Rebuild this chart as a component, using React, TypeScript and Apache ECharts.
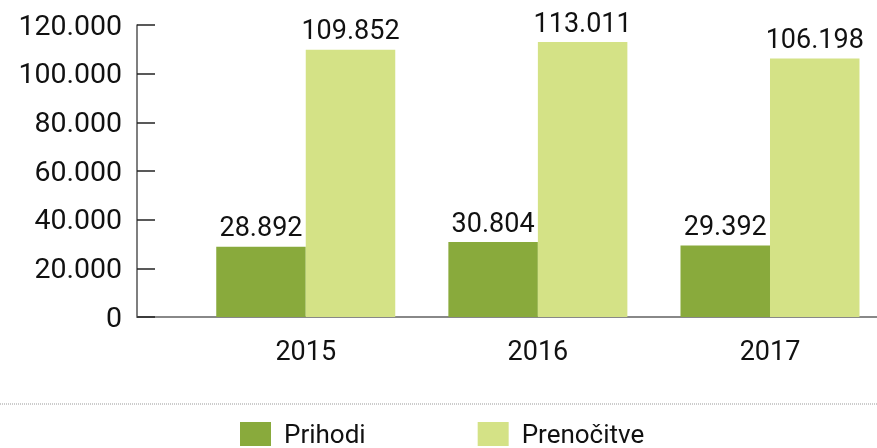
import React, { useEffect, useRef } from "react";
import * as echarts from "echarts";

const years = ["2015", "2016", "2017"];
const prihodi = [28892, 30804, 29392];
const prenocitve = [109852, 113011, 106198];
const seriesNames = ["Prihodi", "Prenočitve"];
const colors = ["#89AA3C", "#D4E286"];

const fmt = (v: number) => String(v).replace(/\B(?=(\d{3})+(?!\d))/g, ".");

export default function App() {
  const ref = useRef<HTMLDivElement>(null);
  useEffect(() => {
    if (!ref.current) return;
    const chart = echarts.init(ref.current, null, { renderer: "svg" });
    const font = "Roboto";
    const mk = (vals: number[]) => vals.map((v, i) => [i + 1, v]);
    const valueLabel = {
      show: true,
      position: "top",
      distance: 6,
      formatter: (p: any) => fmt(p.value[1]),
      fontSize: 27,
      color: "#111",
      fontFamily: font,
    };
    chart.setOption({
      animation: false,
      textStyle: { fontFamily: font },
      grid: { left: 137, right: 0, top: 25, bottom: 131, containLabel: false },
      xAxis: {
        type: "value",
        min: 0.273,
        max: 3.461,
        splitLine: { show: false },
        axisTick: { show: false },
        axisLine: { show: true, lineStyle: { color: "#888", width: 2 } },
        axisLabel: {
          customValues: [1, 2, 3],
          formatter: (v: number) => years[Math.round(v) - 1] ?? "",
          fontSize: 27,
          color: "#111",
          fontFamily: font,
          margin: 20,
        },
      },
      yAxis: {
        type: "value",
        min: 0,
        max: 120000,
        interval: 20000,
        splitLine: { show: false },
        axisLine: { show: true, lineStyle: { color: "#555", width: 1.5 } },
        axisTick: { show: true, inside: true, length: 18, lineStyle: { color: "#222", width: 1.5 } },
        axisLabel: {
          formatter: (v: number) => fmt(v),
          fontSize: 28.5,
          color: "#111",
          fontFamily: font,
          margin: 15,
        },
      },
      legend: {
        left: 235,
        top: 416,
        icon: "rect",
        itemWidth: 31,
        itemHeight: 24,
        itemGap: 112,
        textStyle: { fontSize: 26, color: "#111", fontFamily: font, padding: [0, 0, 0, 8] },
        data: seriesNames,
      },
      series: [
        {
          name: seriesNames[0],
          type: "bar",
          data: mk(prihodi),
          barWidth: 89.5,
          barGap: "0%",
          itemStyle: { color: colors[0] },
          label: valueLabel,
        },
        {
          name: seriesNames[1],
          type: "bar",
          data: mk(prenocitve),
          barWidth: 89.5,
          barGap: "0%",
          itemStyle: { color: colors[1] },
          label: valueLabel,
        },
      ],
      graphic: [
        {
          type: "line",
          shape: { x1: 0, y1: 404, x2: 877, y2: 404 },
          style: { stroke: "#999", lineWidth: 1, lineDash: [1, 1] },
          silent: true,
        },
      ],
    });
    return () => chart.dispose();
  }, []);
  return (
    <div
      ref={ref}
      style={{ position: "fixed", left: 0, top: 0, width: 877, height: 448 }}
    />
  );
}
